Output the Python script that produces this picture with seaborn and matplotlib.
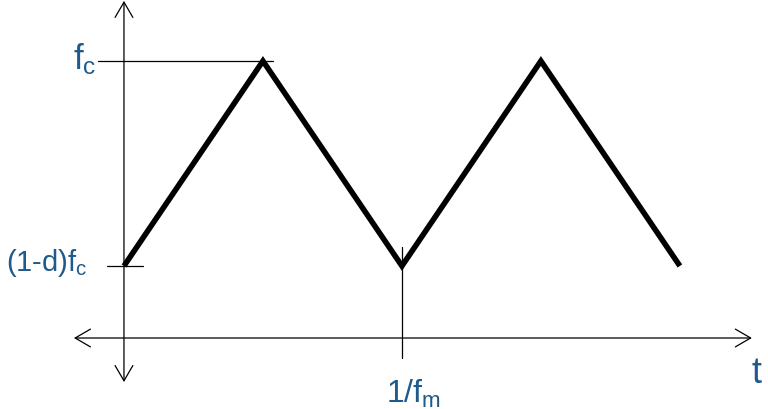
import matplotlib
matplotlib.use("Agg")
import matplotlib.pyplot as plt
import seaborn as sns
import pandas as pd

# triangle frequency sweep, time in units of 1/f_m, frequency in units of f_c
t_values = [0.0, 0.5, 1.0, 1.5, 2.0]
f_values = [0.26, 1.0, 0.26, 1.0, 0.26]
f_low = 0.26
period = 1.0

sns.set_style("white")
plt.rcParams['font.family'] = ['Liberation Sans', 'DejaVu Sans']
plt.rcParams['mathtext.fontset'] = 'custom'
plt.rcParams['mathtext.rm'] = 'Liberation Sans'
plt.rcParams['mathtext.it'] = 'Liberation Sans'

df = pd.DataFrame({"t": t_values, "f": f_values})

fig = plt.figure(figsize=(7.68, 4.10), dpi=100)
ax = fig.add_axes([0, 0, 1, 1])
ax.set_xlim(-0.446, 2.317)
ax.set_ylim(-0.2563, 1.2238)
ax.axis("off")

sns.lineplot(data=df, x="t", y="f", color="black", linewidth=4.0, ax=ax,
             solid_joinstyle="miter", solid_capstyle="butt")

arrow = dict(arrowstyle="<->,head_length=0.55,head_width=0.32", color="black",
             lw=0.9, mutation_scale=20, shrinkA=0, shrinkB=0)
# time axis
ax.annotate("", xy=(2.259, 0), xytext=(-0.18, 0), arrowprops=arrow)
# frequency axis
ax.annotate("", xy=(0, 1.217), xytext=(0, -0.159), arrowprops=arrow)

# guide lines
ax.plot([-0.094, 0.536], [1, 1], color="black", lw=0.9)
ax.plot([-0.061, 0.068], [f_low, f_low], color="black", lw=0.9)
ax.plot([period, period], [-0.072, 0.329], color="black", lw=0.9)

blue = "#1f5a8a"
ax.text(-0.10, 1.01, r"f$_\mathregular{c}$", color=blue, fontsize=25,
        ha="right", va="center")
ax.text(-0.13, f_low + 0.015, r"(1-d)f$_\mathregular{c}$", color=blue, fontsize=21,
        ha="right", va="center")
ax.text(period + 0.04, -0.2, r"1/f$_\mathregular{m}$", color=blue, fontsize=23,
        ha="center", va="center")
ax.text(2.275, -0.125, "t", color=blue, fontsize=26, ha="center", va="center")

fig.savefig("out.png", dpi=100)
plt.close(fig)
